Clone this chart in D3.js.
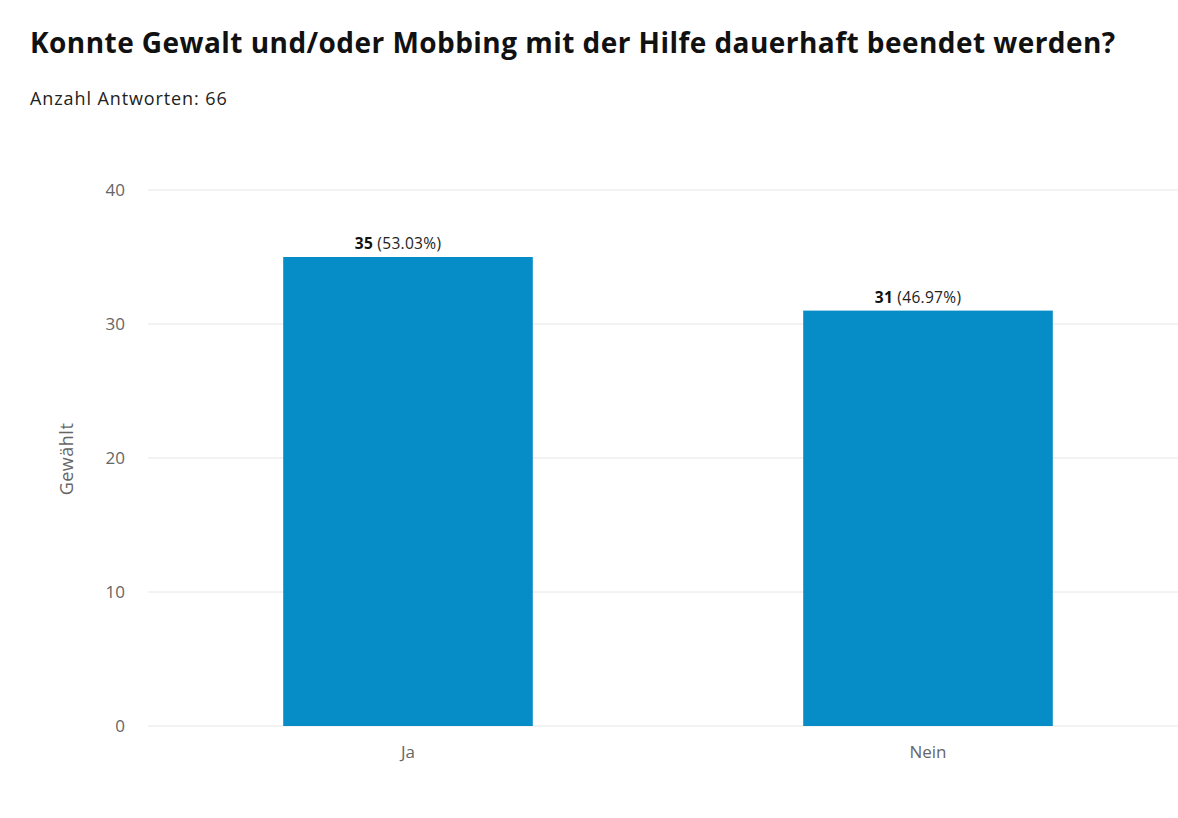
<!DOCTYPE html>
<html>
<head>
<meta charset="utf-8">
<script src="https://cdn.jsdelivr.net/npm/d3@7"></script>
<style>
  body { margin: 0; background: #fff; font-family: 'Open Sans', sans-serif; }
</style>
</head>
<body>
<script>
let categories = ['Ja', 'Nein']
let counts = [35, 31]
let percents = ['53.03%', '46.97%']
let yTicks = [0, 10, 20, 30, 40]
let total = 66

let width = 1178
let height = 818
let plotLeft = 148
let plotRight = 1188
let plotTop = 190
let plotBottom = 726

let svg = d3.select('body').append('svg').attr('width', width).attr('height', height)

svg.append('text')
  .attr('x', 30).attr('y', 53)
  .attr('font-size', 28).attr('font-weight', 700).attr('fill', '#111')
  .attr('letter-spacing', 0.45)
  .text('Konnte Gewalt und/oder Mobbing mit der Hilfe dauerhaft beendet werden?')

svg.append('text')
  .attr('x', 30).attr('y', 105)
  .attr('font-size', 18).attr('fill', '#222').attr('letter-spacing', 0.9)
  .text('Anzahl Antworten: ' + total)

let x = d3.scaleBand().domain(categories).range([plotLeft, plotRight]).paddingInner(0.52).paddingOuter(0.26)
let y = d3.scaleLinear().domain([0, 40]).range([plotBottom, plotTop])

// grid
svg.append('g').selectAll('line')
  .data(yTicks)
  .enter()
  .append('line')
  .attr('x1', plotLeft).attr('x2', width)
  .attr('y1', d => y(d)).attr('y2', d => y(d))
  .attr('stroke', '#e6e6e6').attr('stroke-width', 1)

svg.append('g').selectAll('text')
  .data(yTicks)
  .enter()
  .append('text')
  .attr('x', 125).attr('y', d => y(d) + 6)
  .attr('text-anchor', 'end')
  .attr('font-size', 17).attr('fill', '#666')
  .text(d => d)

svg.append('text')
  .attr('transform', 'translate(73,459) rotate(-90)')
  .attr('text-anchor', 'middle')
  .attr('font-size', 18).attr('fill', '#666')
  .attr('letter-spacing', 0.5)
  .text('Gewählt')

let bars = svg.append('g').selectAll('g')
  .data(categories)
  .enter()
  .append('g')

bars.append('rect')
  .attr('x', d => x(d))
  .attr('width', x.bandwidth())
  .attr('y', (d, i) => y(counts[i]))
  .attr('height', (d, i) => plotBottom - y(counts[i]))
  .attr('fill', '#068dc8')

// value labels sit a little left of the bar centre in the original
let lbl = bars.append('text')
  .attr('x', d => x(d) + x.bandwidth() / 2 - 10)
  .attr('y', (d, i) => y(counts[i]) - 8)
  .attr('text-anchor', 'middle')
  .attr('font-size', 15.5).attr('fill', '#222')
  .attr('letter-spacing', 0.3)
lbl.append('tspan').attr('font-weight', 700).attr('fill', '#111').text((d, i) => counts[i])
lbl.append('tspan').text((d, i) => ' (' + percents[i] + ')')

bars.append('text')
  .attr('x', d => x(d) + x.bandwidth() / 2)
  .attr('y', plotBottom + 32)
  .attr('text-anchor', 'middle')
  .attr('font-size', 17).attr('fill', '#666')
  .text(d => d)
</script>
</body>
</html>
